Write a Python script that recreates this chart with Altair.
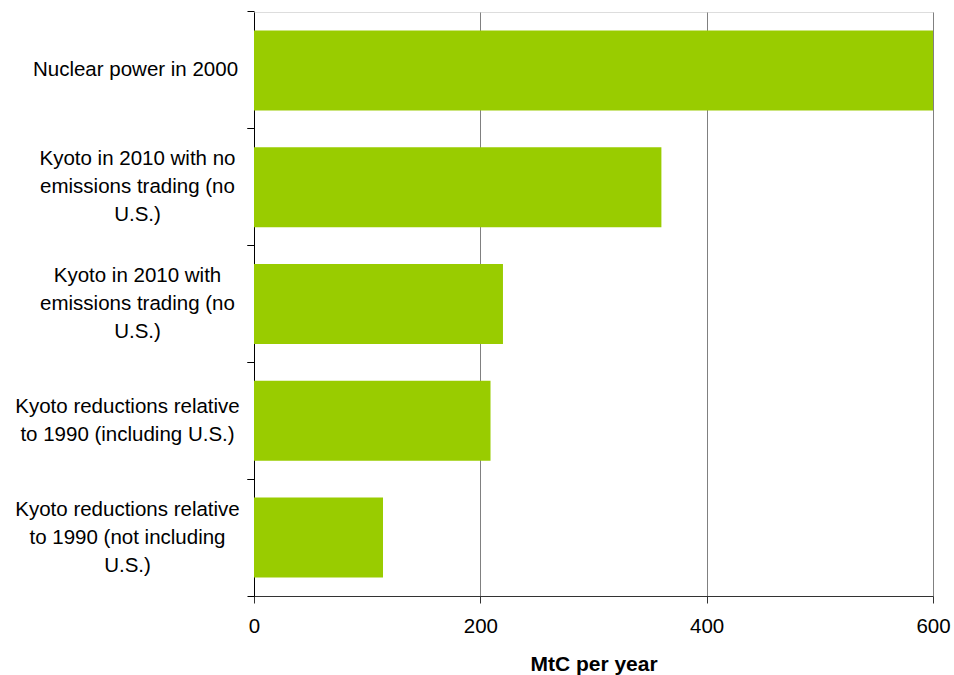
import altair as alt
import pandas as pd

categories = [
    "Nuclear power in 2000",
    "Kyoto in 2010 with no|emissions trading (no|U.S.)",
    "Kyoto in 2010 with|emissions trading (no|U.S.)",
    "Kyoto reductions relative|to 1990 (including U.S.)",
    "Kyoto reductions relative|to 1990 (not including|U.S.)",
]
values = [600, 360, 220, 209, 114]
x_ticks = [0, 200, 400, 600]
x_title = "MtC per year"

df = pd.DataFrame({"label": categories, "value": values})

FONT = "Liberation Sans"
BAR = "#99CC00"
GRID = "#808080"
FS = 20.5
LINE_H = 28

x_enc = alt.X(
    "value:Q",
    scale=alt.Scale(domain=[0, 600], nice=False, zero=True),
    axis=alt.Axis(
        title=x_title,
        values=x_ticks,
        grid=True,
        gridColor=GRID,
        gridWidth=1,
        gridOpacity=1,
        domainColor="#333333",
        domainWidth=1,
        tickColor="#333333",
        tickSize=7,
        labelFont=FONT,
        labelFontSize=FS,
        labelColor="#000000",
        labelPadding=13,
        labelFlush=False,
        titleFont=FONT,
        titleFontSize=21,
        titleFontWeight="bold",
        titleColor="#000000",
        titleBaseline="alphabetic",
        titleY=74,
    ),
)

y_scale = alt.Scale(domain=categories, paddingInner=0.315, paddingOuter=0.1575)

# centre each multi-line label block so its widest line ends just left of the tick
label_pad = (
    "indexof(datum.label, 'reductions') >= 0 ? 120 : "
    "(indexof(datum.label, 'Kyoto') >= 0 ? 110 : 112)"
)
# centre the block of lines vertically on the band
label_off = f"-(length(split(datum.label, '|')) - 1) * {LINE_H / 2}"

bars = alt.Chart(df).mark_bar(color=BAR).encode(
    x=x_enc,
    y=alt.Y(
        "label:N",
        sort=categories,
        scale=y_scale,
        axis=alt.Axis(
            title=None,
            orient="left",
            grid=False,
            bandPosition=-0.23,
            domainColor="#000000",
            domainWidth=1,
            tickColor="#000000",
            tickSize=7,
            labelExpr="split(datum.label, '|')",
            labelFont=FONT,
            labelFontSize=FS,
            labelColor="#000000",
            labelAlign="center",
            labelBaseline="middle",
            labelLineHeight=LINE_H,
            labelPadding=alt.ExprRef(expr=label_pad),
            labelOffset=alt.ExprRef(expr=label_off),
            labelLimit=400,
        ),
    ),
)

edge_ticks = alt.Chart(df).mark_bar(opacity=0).encode(
    x=x_enc,
    y=alt.Y(
        "label:N",
        sort=categories,
        scale=y_scale,
        axis=alt.Axis(
            title=None,
            orient="left",
            grid=False,
            domain=False,
            labels=False,
            bandPosition=1.23,
            tickColor="#000000",
            tickSize=7,
        ),
    ),
)

chart = (
    alt.layer(bars, edge_ticks)
    .resolve_axis(y="independent")
    .properties(
        width=679,
        height=584,
        autosize=alt.AutoSizeParams(type="none"),
        padding={"left": 254, "top": 12, "right": 21, "bottom": 79},
    )
    .configure_view(stroke=GRID, strokeWidth=1)
    .configure(font=FONT, background="white")
)

chart.save("out.html", embed_options={"renderer": "svg", "actions": False})
